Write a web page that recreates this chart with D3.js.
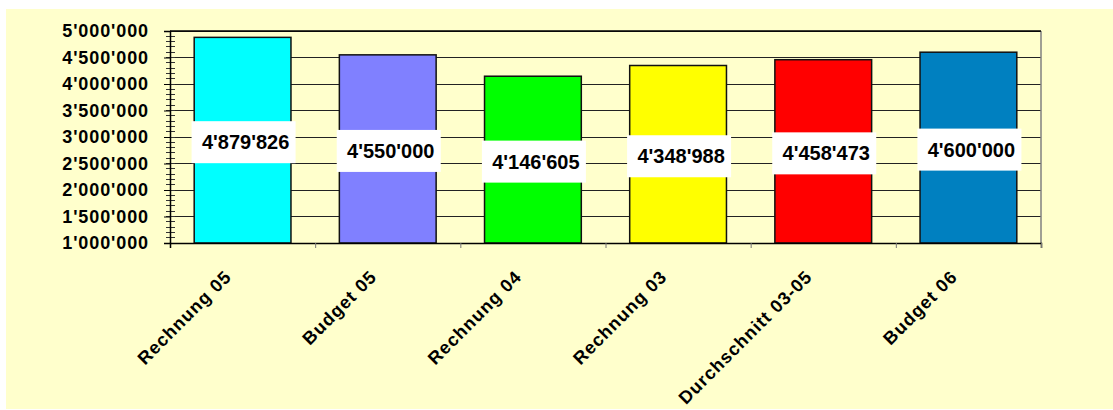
<!doctype html>
<html>
<head>
<meta charset="utf-8">
<title>Rechnung / Budget</title>
<script src="https://d3js.org/d3.v7.min.js"></script>
<style>
body { margin: 0; background: white; }
svg { display: block; font-family: "Liberation Sans", Arial, sans-serif; font-weight: bold; }
</style>
</head>
<body>
<div id="chart"></div>
<script>
// data
var categories = ["Rechnung 05", "Budget 05", "Rechnung 04", "Rechnung 03", "Durchschnitt 03-05", "Budget 06"];
var values = [4879826, 4550000, 4146605, 4348988, 4458473, 4600000];
var barColors = ["#00ffff", "#8080ff", "#00ff00", "#ffff00", "#ff0000", "#0080c0"];
var yTicks = [1000000, 1500000, 2000000, 2500000, 3000000, 3500000, 4000000, 4500000, 5000000];

var W = 1113, H = 410;
var plot = { left: 170, top: 31, right: 1041, bottom: 243 };

var fmt = d3.formatLocale({ decimal: ".", thousands: "'", grouping: [3], currency: ["", ""] }).format(",");

var svg = d3.select("#chart").append("svg")
  .attr("width", W)
  .attr("height", H);

// yellow chart area
svg.append("rect")
  .attr("x", 6).attr("y", 9)
  .attr("width", W - 6).attr("height", 400)
  .attr("fill", "#ffffcc");

var x = d3.scaleBand()
  .domain(categories)
  .range([plot.left, plot.right])
  .paddingInner(1 / 3)
  .paddingOuter(1 / 6);

var y = d3.scaleLinear()
  .domain([1000000, 5000000])
  .range([plot.bottom, plot.top]);

// gridlines
svg.append("g")
  .selectAll("line")
  .data(yTicks.slice(1))
  .join("line")
  .attr("x1", plot.left).attr("x2", plot.right)
  .attr("y1", function(d) { return y(d); })
  .attr("y2", function(d) { return y(d); })
  .attr("stroke", "#222")
  .attr("stroke-width", 1)
  .attr("shape-rendering", "crispEdges");

// right border of plot area
svg.append("line")
  .attr("x1", plot.right).attr("x2", plot.right)
  .attr("y1", plot.top).attr("y2", plot.bottom)
  .attr("stroke", "#808080")
  .attr("stroke-width", 1.5);

// bars
svg.append("g")
  .selectAll("rect")
  .data(values)
  .join("rect")
  .attr("x", function(d, i) { return x(categories[i]); })
  .attr("y", function(d) { return y(d); })
  .attr("width", x.bandwidth())
  .attr("height", function(d) { return y(1000000) - y(d); })
  .attr("fill", function(d, i) { return barColors[i]; })
  .attr("stroke", "#111")
  .attr("stroke-width", 1.5);

// minor ticks on y axis (crossing)
var minor = d3.range(1000000, 5000001, 100000);
svg.append("g")
  .selectAll("line")
  .data(minor)
  .join("line")
  .attr("x1", plot.left - 4.5).attr("x2", plot.left + 4.5)
  .attr("y1", function(d) { return y(d); })
  .attr("y2", function(d) { return y(d); })
  .attr("stroke", "#333")
  .attr("stroke-width", 1)
  .attr("shape-rendering", "crispEdges");

// y axis
var yAxis = svg.append("g")
  .attr("transform", "translate(" + plot.left + ",0)")
  .call(d3.axisLeft(y).tickValues(yTicks).tickSize(6).tickPadding(15).tickFormat(fmt));
yAxis.select(".domain").attr("stroke", "#000").attr("stroke-width", 1.5);
yAxis.selectAll(".tick line").attr("stroke", "#000");
yAxis.selectAll("text")
  .attr("font-size", "18px")
  .attr("font-family", "Liberation Sans, Arial, sans-serif")
  .attr("font-weight", "bold")
  .attr("letter-spacing", "0.9px")
  .attr("fill", "#000");

// top border of plot
svg.append("line")
  .attr("x1", plot.left).attr("x2", plot.right)
  .attr("y1", plot.top).attr("y2", plot.top)
  .attr("stroke", "#000").attr("stroke-width", 1.5);

// x axis: ticks on category boundaries
var xb = d3.scaleLinear().domain([0, categories.length]).range([plot.left, plot.right]);
var xAxis = svg.append("g")
  .attr("transform", "translate(0," + plot.bottom + ")")
  .call(d3.axisBottom(xb).tickValues(d3.range(1, categories.length + 1)).tickSize(5).tickFormat(""));
xAxis.select(".domain").attr("stroke", "#000").attr("stroke-width", 1.5);
xAxis.selectAll(".tick line").attr("stroke", "#777");

// rotated category labels
svg.append("g")
  .selectAll("text")
  .data(categories)
  .join("text")
  .attr("transform", function(d) {
    return "translate(" + (x(d) + x.bandwidth() / 2 - 10) + "," + 278 + ") rotate(-45)";
  })
  .attr("text-anchor", "end")
  .attr("font-size", "18px")
  .attr("letter-spacing", "1px")
  .attr("fill", "#000")
  .text(function(d) { return d; });

// value labels in white boxes
var lab = svg.append("g")
  .selectAll("g")
  .data(values)
  .join("g")
  .attr("transform", function(d, i) {
    var cx = x(categories[i]) + x.bandwidth() / 2 + 1;
    var cy = (y(d) + y(1000000)) / 2 + 2;
    return "translate(" + cx + "," + cy + ")";
  });
lab.append("rect")
  .attr("x", -52).attr("y", -21)
  .attr("width", 104).attr("height", 42)
  .attr("fill", "#fff");
lab.append("text")
  .attr("x", 2)
  .attr("y", 7)
  .attr("text-anchor", "middle")
  .attr("font-size", "20px")
  .attr("fill", "#000")
  .text(function(d) { return fmt(d); });
</script>
</body>
</html>
